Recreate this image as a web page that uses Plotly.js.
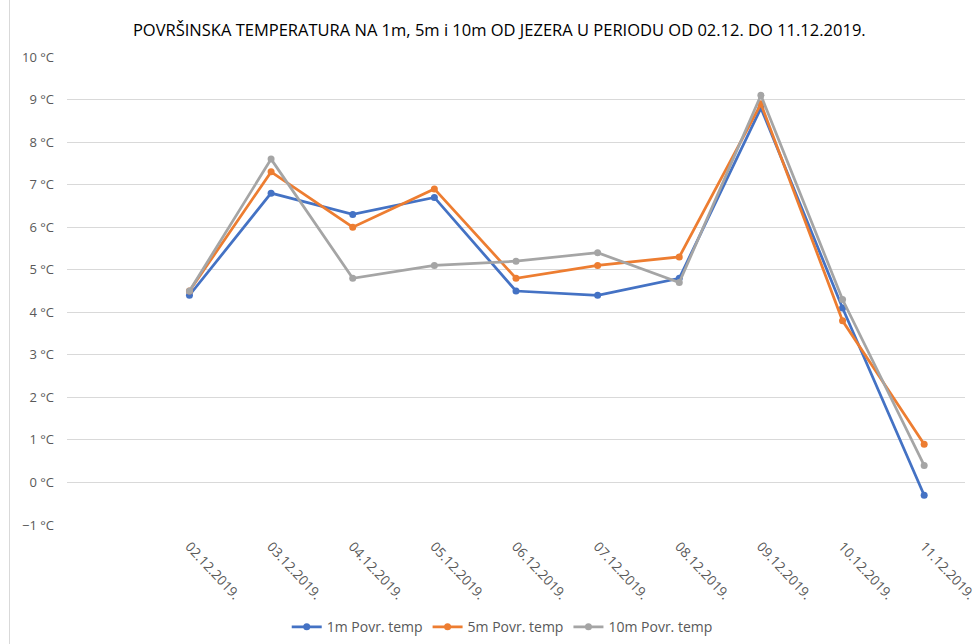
<!DOCTYPE html>
<html>
<head>
<meta charset="utf-8">
<script src="https://cdn.plot.ly/plotly-3.0.1.min.js"></script>
<style>
html,body{margin:0;padding:0;background:#fff;overflow:hidden;}
#wrap{position:relative;width:979px;height:644px;}
#chart{width:979px;height:644px;}
#border{position:absolute;left:9px;top:0;width:1px;height:644px;background:#d9d9d9;}
</style>
</head>
<body>
<div id="wrap"><div id="chart"></div><div id="border"></div></div>
<script>
const dates = ["02.12.2019.","03.12.2019.","04.12.2019.","05.12.2019.","06.12.2019.","07.12.2019.","08.12.2019.","09.12.2019.","10.12.2019.","11.12.2019."];
const temp1m  = [4.4, 6.8, 6.3, 6.7, 4.5, 4.4, 4.8, 8.8, 4.1, -0.3];
const temp5m  = [4.5, 7.3, 6.0, 6.9, 4.8, 5.1, 5.3, 8.9, 3.8, 0.9];
const temp10m = [4.5, 7.6, 4.8, 5.1, 5.2, 5.4, 4.7, 9.1, 4.3, 0.4];
const seriesNames = ["1m Povr. temp","5m Povr. temp","10m Povr. temp"];
const colors = ["#4472C4","#ED7D31","#A5A5A5"];

const all = [temp1m, temp5m, temp10m];
const traces = all.map((vals,i)=>({
  x: dates, y: vals, name: seriesNames[i], type:'scatter', mode:'lines+markers',
  line:{color:colors[i], width:2.75}, marker:{color:colors[i], size:7}
}));

const font = "Open Sans, Liberation Sans, sans-serif";
const layout = {
  width:979, height:644,
  margin:{l:67, r:14, t:57, b:119},
  paper_bgcolor:'#fff', plot_bgcolor:'#fff',
  font:{family:font, color:'#595959', size:13},
  title:{text:"POVRŠINSKA TEMPERATURA NA 1m, 5m i 10m OD JEZERA U PERIODU OD 02.12. DO 11.12.2019.",
         font:{family:font, size:16.5, color:'#000'}, x:0.51, xanchor:'center', y:0.953, yanchor:'middle'},
  xaxis:{type:'category', range:[-1.5, 9.5], tickangle:47, showgrid:false, zeroline:false,
         showline:false, ticks:'', ticklabelstandoff:10, tickfont:{size:13.5, color:'#595959'}, automargin:false},
  yaxis:{range:[-1,10], dtick:1, tick0:0, ticksuffix:' °C', gridcolor:'#d9d9d9', gridwidth:1,
         zeroline:false, showline:false, ticks:'', ticklabelstandoff:12,
         tickfont:{size:13, color:'#595959'}, automargin:false},
  legend:{orientation:'h', xref:'container', yref:'container', x:0.513, xanchor:'center', y:0.026, yanchor:'middle',
          itemwidth:30, font:{size:14, color:'#595959'}},
  showlegend:true
};
Plotly.newPlot('chart', traces, layout, {displayModeBar:false, staticPlot:true});
</script>
</body>
</html>
